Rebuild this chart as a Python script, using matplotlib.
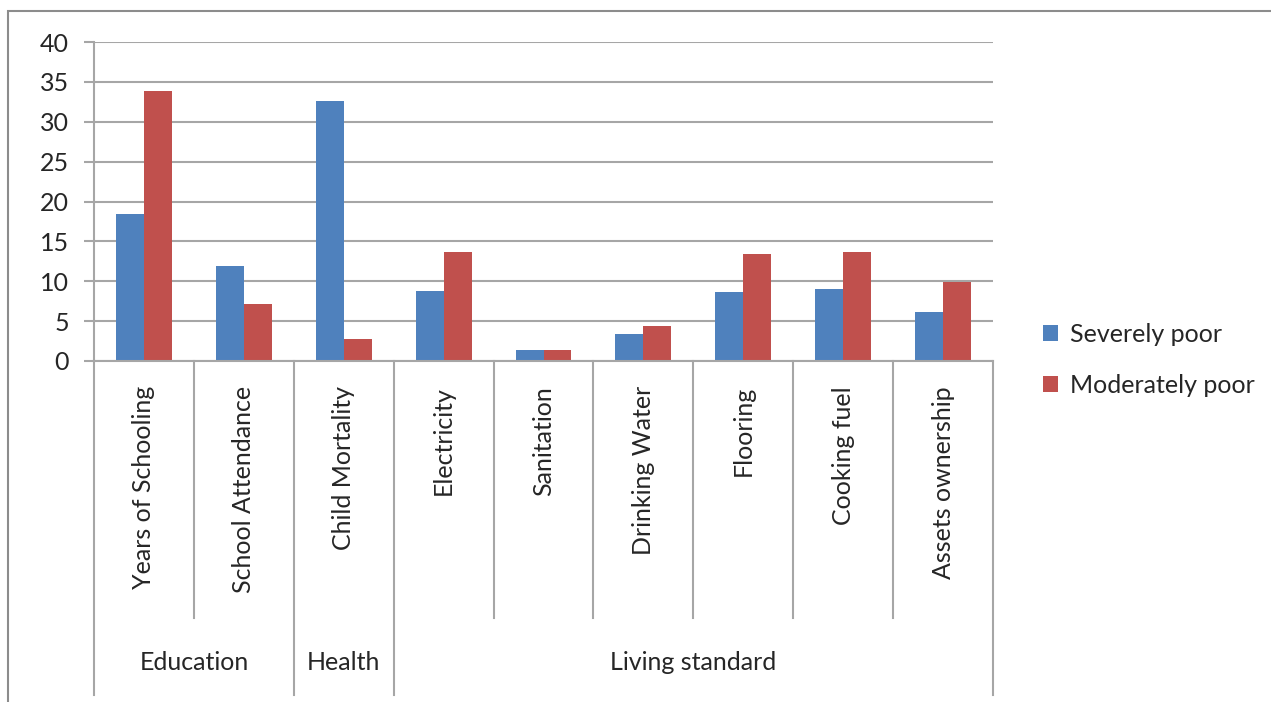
import numpy as np
import matplotlib.pyplot as plt
from matplotlib.patches import Rectangle
import matplotlib.transforms as mtransforms

categories = ["Years of Schooling", "School Attendance", "Child Mortality", "Electricity",
              "Sanitation", "Drinking Water", "Flooring", "Cooking fuel", "Assets ownership"]
groups = ["Education", "Health", "Living standard"]
group_sizes = [2, 1, 6]
severely = [18.4, 11.9, 32.6, 8.8, 1.4, 3.4, 8.6, 9.0, 6.1]
moderately = [33.9, 7.1, 2.7, 13.7, 1.4, 4.4, 13.4, 13.7, 9.9]

plt.rcParams['font.family'] = ['Lato', 'DejaVu Sans']
W, H = 1271, 702
fs = 18
fig = plt.figure(figsize=(W / 100, H / 100), dpi=100)
fig.patches.append(Rectangle((8 / W, -0.05), 1.2, 1.05 - 11 / H, transform=fig.transFigure,
                             fill=False, edgecolor='#8c8c8c', linewidth=1.5))

ax = fig.add_axes([94 / W, 1 - 361 / H, (993 - 94) / W, (361 - 42) / H])
x = np.arange(len(categories))
bw = 0.28
ax.bar(x - bw / 2, severely, bw, color='#4F81BD', label='Severely poor')
ax.bar(x + bw / 2, moderately, bw, color='#C0504D', label='Moderately poor')

ax.set_xlim(-0.5, len(categories) - 0.5)
ax.set_ylim(0, 40)
ax.set_yticks(range(0, 41, 5))
ax.yaxis.grid(True, color='#a6a6a6', linewidth=1.5)
ax.set_axisbelow(True)
for s in ['top', 'right']:
    ax.spines[s].set_visible(False)
for s in ['left', 'bottom']:
    ax.spines[s].set_color('#a6a6a6')
    ax.spines[s].set_linewidth(1.5)
ax.tick_params(axis='y', length=7.2, color='#a6a6a6', width=1.5, labelsize=fs,
               labelcolor='#262626', pad=11)
ax.set_xticks([])

# category dividers and labels below the axis
trans = mtransforms.blended_transform_factory(ax.transData, fig.transFigure)
bounds = np.cumsum([0] + group_sizes) - 0.5
for b in np.arange(-0.5, len(categories)):
    long = np.any(np.isclose(b, bounds))
    y_end = 1 - (695 if long else 618) / H
    ax.plot([b, b], [1 - 361 / H, y_end], transform=trans, color='#a6a6a6',
            linewidth=1.5, clip_on=False)
for i, c in enumerate(categories):
    ax.text(i, 1 - 386 / H, c, transform=trans, rotation=90, ha='center', va='top',
            fontsize=fs, color='#262626')
for g, lo, hi in zip(groups, bounds[:-1], bounds[1:]):
    ax.text((lo + hi) / 2, 1 - 662 / H, g, transform=trans, ha='center', va='center',
            fontsize=fs, color='#262626')

ax.legend(loc='center left', bbox_to_anchor=(1020 / W, 1 - 360 / H),
          bbox_transform=fig.transFigure, frameon=False, fontsize=fs,
          handlelength=0.6, handleheight=0.6, handletextpad=0.5, labelspacing=1.1,
          labelcolor='#262626')

fig.savefig('out.png', dpi=100)
